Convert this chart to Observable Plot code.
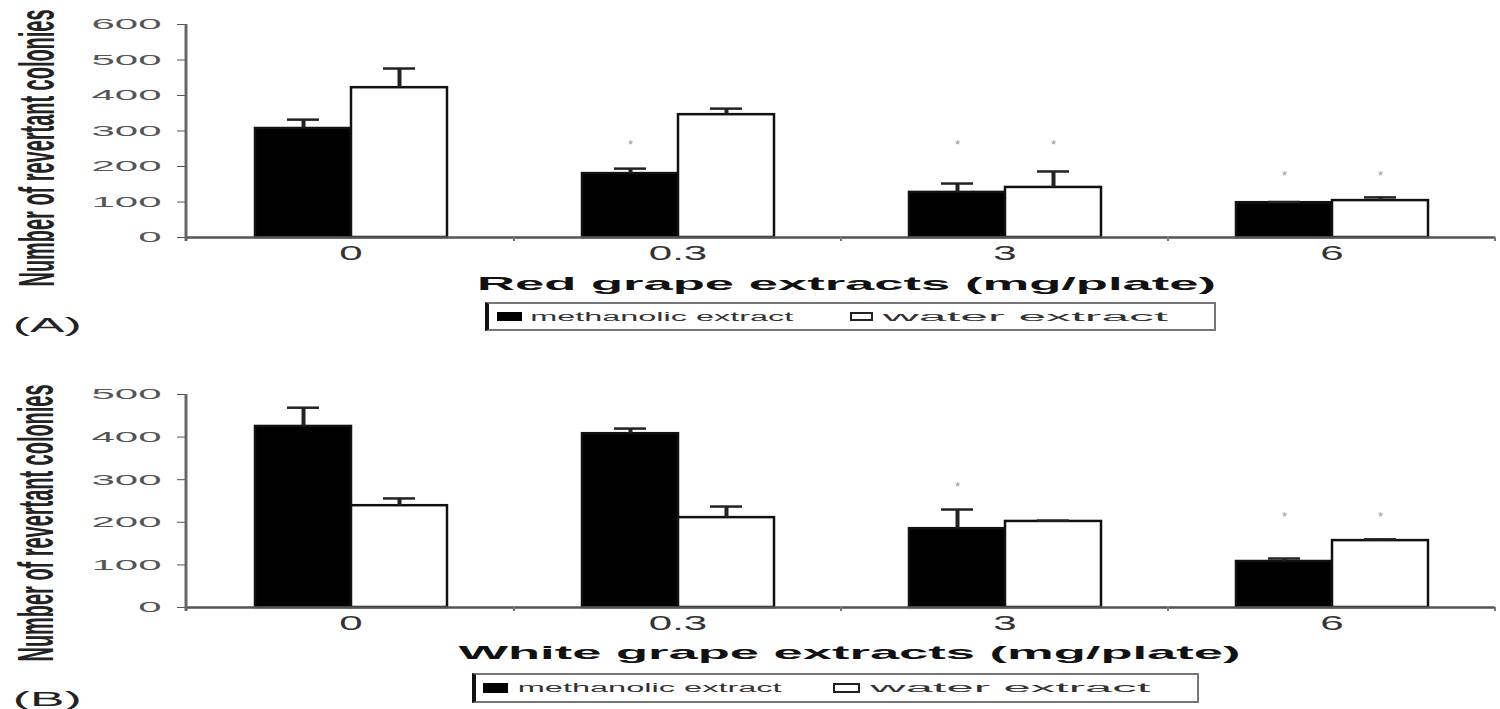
<!DOCTYPE html>
<html>
<head>
<meta charset="utf-8">
<script src="https://cdn.jsdelivr.net/npm/d3@7"></script>
<script src="https://cdn.jsdelivr.net/npm/@observablehq/plot@0.6"></script>
<style>
  html, body { margin: 0; padding: 0; background: #fff; }
  body { position: relative; width: 1500px; height: 709px; overflow: hidden; font-family: "Liberation Sans", Arial, sans-serif; }
  .panel { position: absolute; left: 0; }
</style>
</head>
<body>
<div id="panelA" class="panel" style="top:0px"></div>
<div id="panelB" class="panel" style="top:356px"></div>
<script>
// ---------- data ----------
const doses = ["0", "0.3", "3", "6"];
const series = ["methanolic extract", "water extract"];

// (A) red grape extracts
const redMethanolic = [307, 180, 127, 98];
const redMethanolicErr = [25, 14, 25, 2];
const redWater = [422, 346, 141, 104];
const redWaterErr = [54, 17, 45, 9];
// significance asterisks (dose, series, level)
const redStarDoses = ["0.3", "3", "3", "6", "6"];
const redStarSeries = ["methanolic extract", "methanolic extract", "water extract", "methanolic extract", "water extract"];
const redStarLevel = [273, 273, 273, 186, 186];

// (B) white grape extracts
const whiteMethanolic = [425, 408, 185, 108];
const whiteMethanolicErr = [44, 12, 45, 7];
const whiteWater = [239, 211, 202, 157];
const whiteWaterErr = [17, 26, 2, 3];
const whiteStarDoses = ["3", "6", "6"];
const whiteStarSeries = ["methanolic extract", "methanolic extract", "water extract"];
const whiteStarLevel = [293, 223, 223];

const yTicksA = [0, 100, 200, 300, 400, 500, 600];
const yTicksB = [0, 100, 200, 300, 400, 500];

function rows(meth, methErr, water, waterErr) {
  const out = [];
  doses.forEach((d, i) => {
    out.push({dose: d, series: series[0], value: meth[i], err: methErr[i]});
    out.push({dose: d, series: series[1], value: water[i], err: waterErr[i]});
  });
  return out;
}
function stars(ds, ss, lv) {
  return ds.map((d, i) => ({dose: d, series: ss[i], level: lv[i]}));
}

function makeChart(container, data, starData, yTicks, marginTop, marginBottom) {
  const yMax = yTicks[yTicks.length - 1];
  const plotH = 213;
  const chart = Plot.plot({
    width: 1500,
    height: marginTop + plotH + marginBottom,
    marginLeft: 186,
    marginRight: 5,
    marginTop,
    marginBottom,
    style: {fontFamily: '"Liberation Sans", Arial, sans-serif', background: "#fff"},
    fx: {domain: doses, padding: 0, label: null},
    x: {domain: series, paddingInner: 0, paddingOuter: 0.69, axis: null},
    y: {domain: [0, yMax], label: null},
    color: {domain: series, range: ["#000", "#fff"]},
    marks: [
      Plot.barY(data, {fx: "dose", x: "series", y: "value", fill: "series", stroke: "#111", strokeWidth: 2.5}),
      Plot.ruleX(data, {fx: "dose", x: "series", y1: "value", y2: d => d.value + d.err, stroke: "#222", strokeWidth: 4}),
      Plot.tickY(data, {fx: "dose", x: "series", y: d => d.value + d.err, stroke: "#222", strokeWidth: 2.5, insetLeft: 32, insetRight: 32}),
      Plot.ruleY([0], {stroke: "#555", strokeWidth: 2.5}),
      Plot.text(starData, {fx: "dose", x: "series", y: "level", text: () => "*", fill: "#999", fontSize: 13, dy: 4}),
      Plot.axisY({ticks: yTicks, tickSize: 10, tickPadding: 16, fontSize: 15, color: "#555", label: null, facetAnchor: "left"}),
      Plot.axisFx({anchor: "bottom", tickSize: 0, tickPadding: 8, fontSize: 20, color: "#333", label: null})
    ]
  });
  container.appendChild(chart);

  // stretch tick labels horizontally like the (wide) original
  chart.querySelectorAll('g[aria-label="y-axis tick label"] text').forEach(t => {
    const l = t.getComputedTextLength();
    t.setAttribute("textLength", l * 2.8);
    t.setAttribute("lengthAdjust", "spacingAndGlyphs");
  });
  chart.querySelectorAll('g[aria-label="fx-axis tick label"] text').forEach(t => {
    const l = t.getComputedTextLength();
    t.setAttribute("textLength", l * 2.1);
    t.setAttribute("lengthAdjust", "spacingAndGlyphs");
  });

  // y-axis line and small separator ticks, positioned via Plot scales
  const y = chart.scale("y");
  const fx = chart.scale("fx");
  const svg = d3.select(chart);
  const x0 = 186;
  svg.append("line")
    .attr("x1", x0).attr("x2", x0)
    .attr("y1", y.apply(yMax)).attr("y2", y.apply(0) + 4)
    .attr("stroke", "#666").attr("stroke-width", 3);
  const bounds = doses.slice(1).map(d => fx.apply(d)).concat([fx.apply(doses[doses.length - 1]) + fx.bandwidth]);
  bounds.forEach(bx => {
    svg.append("line")
      .attr("x1", bx).attr("x2", bx)
      .attr("y1", y.apply(0)).attr("y2", y.apply(0) + 4)
      .attr("stroke", "#777").attr("stroke-width", 2);
  });
  return chart;
}

makeChart(document.getElementById("panelA"),
  rows(redMethanolic, redMethanolicErr, redWater, redWaterErr),
  stars(redStarDoses, redStarSeries, redStarLevel), yTicksA, 24, 59);
makeChart(document.getElementById("panelB"),
  rows(whiteMethanolic, whiteMethanolicErr, whiteWater, whiteWaterErr),
  stars(whiteStarDoses, whiteStarSeries, whiteStarLevel), yTicksB, 38, 53);

// ---------- text overlays ----------
function addText(str, cx, cy, w, opts = {}) {
  const s = document.createElement("div");
  s.textContent = str;
  Object.assign(s.style, {
    position: "absolute", left: "0px", top: "0px", whiteSpace: "nowrap",
    fontFamily: '"Liberation Sans", Arial, sans-serif',
    fontSize: (opts.size || 16) + "px", fontWeight: opts.weight || "normal",
    color: opts.color || "#000", lineHeight: "1"
  });
  document.body.appendChild(s);
  const r = s.getBoundingClientRect();
  s.style.left = (cx - r.width / 2) + "px";
  s.style.top = (cy - r.height / 2) + "px";
  s.style.transformOrigin = "center center";
  const sx = w / r.width, sy = opts.sy || 1;
  s.style.transform = (opts.rotate ? "rotate(-90deg) " : "") + `scale(${sx}, ${sy})`;
  return s;
}

// y-axis titles
addText("Number of revertant colonies", 37, 148, 277, {size: 20, sy: 2.5, rotate: true, weight: "bold", color: "#222"});
addText("Number of revertant colonies", 36, 523, 277, {size: 20, sy: 2.5, rotate: true, weight: "bold", color: "#222"});
// x-axis titles
addText("Red grape extracts (mg/plate)", 847, 283, 739, {size: 19, weight: "bold", color: "#111"});
addText("White grape extracts (mg/plate)", 849, 652, 782, {size: 19, weight: "bold", color: "#111"});
// panel letters
addText("(A)", 47, 325, 69, {size: 20, color: "#222"});
addText("(B)", 47, 699, 69, {size: 20, color: "#222"});

// ---------- legends ----------
function box(left, top, w, h, css) {
  const d = document.createElement("div");
  Object.assign(d.style, {position: "absolute", left: left + "px", top: top + "px", width: w + "px", height: h + "px", boxSizing: "border-box"}, css);
  document.body.appendChild(d);
  return d;
}
function legend(L, T, W, H, sw1, t1, sw2, t2, swTop, swH) {
  box(L, T, W, H, {border: "2px solid #777", borderLeft: "4px solid #111"});
  box(sw1[0], swTop, sw1[1] - sw1[0], swH, {background: "#000"});
  addText(series[0], (t1[0] + t1[1]) / 2, T + H / 2, t1[1] - t1[0], {size: 12, color: "#333"});
  box(sw2[0], swTop, sw2[1] - sw2[0], swH, {background: "#fff", border: "2px solid #222"});
  addText(series[1], (t2[0] + t2[1]) / 2, T + H / 2, t2[1] - t2[0], {size: 12, color: "#333"});
}
legend(485, 302, 731, 29, [497, 522], [530, 793], [850, 873], [883, 1168], 312, 9);
legend(472, 673, 727, 30, [483, 508], [518, 782], [833, 860], [870, 1150], 683, 10);
</script>
</body>
</html>
